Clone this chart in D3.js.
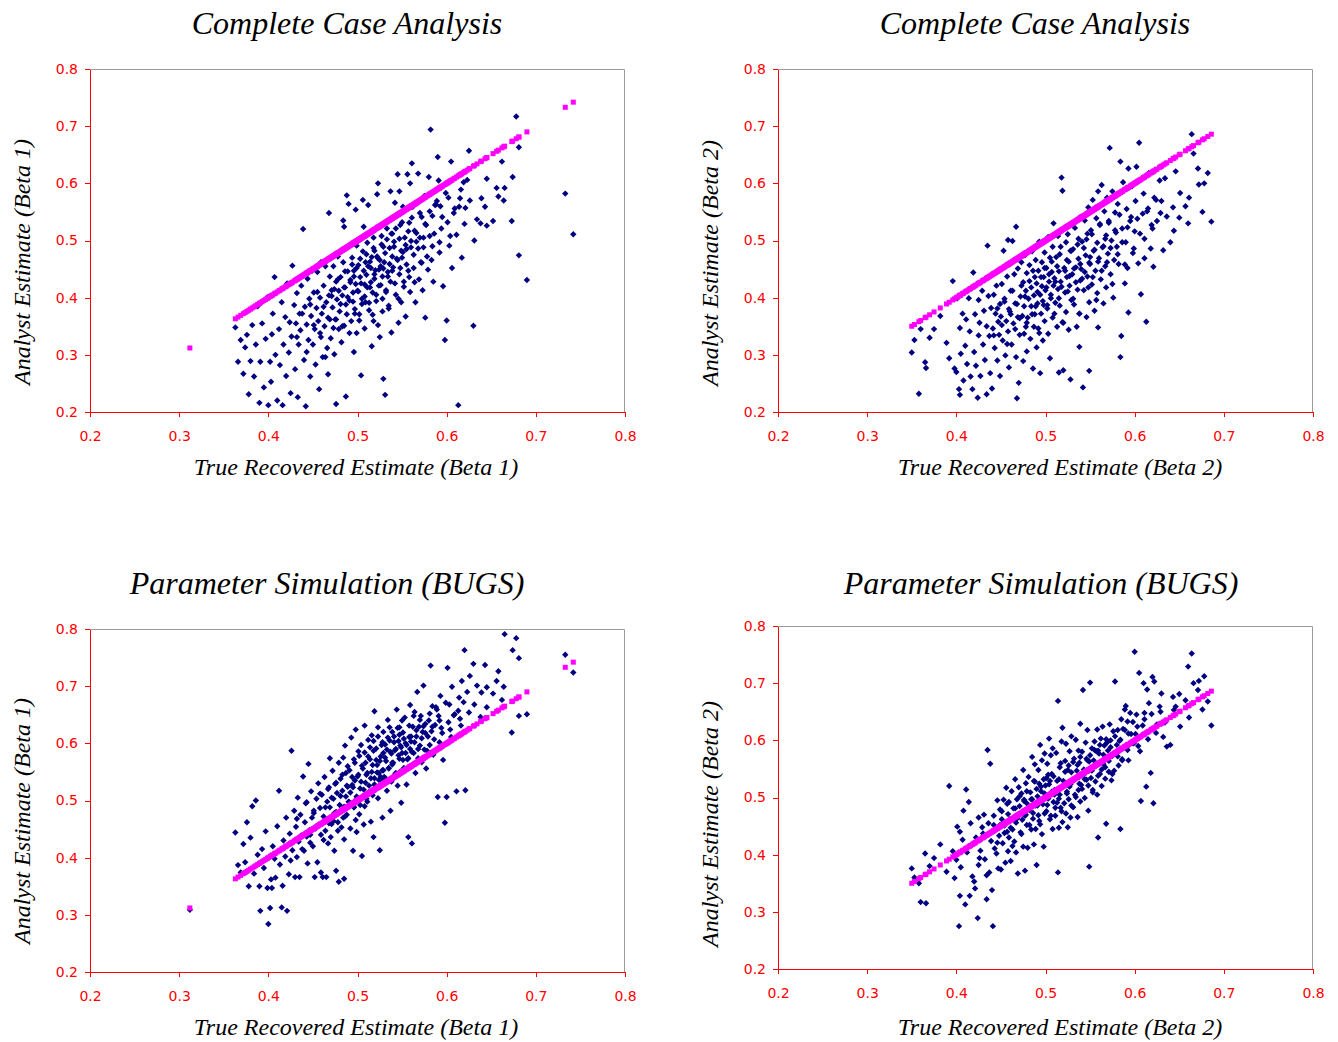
<!DOCTYPE html>
<html>
<head>
<meta charset="utf-8">
<script src="https://cdn.jsdelivr.net/npm/d3@7"></script>
<style>
  body { margin: 0; background: #fff; }
  .axis path, .axis line { stroke: #ff0000; shape-rendering: crispEdges; }
  .axis text { font-family: "DejaVu Sans", sans-serif; font-size: 14px; fill: #ff0000; }
  .title, .axis-label { font-family: "Liberation Serif", serif; font-style: italic; fill: #000; }
  .title { font-size: 32px; }
  .axis-label { font-size: 24px; }
</style>
</head>
<body>
<div id="chart"></div>
<script>
// tick values shared by both axes of every panel
var tickValues = [0.2, 0.3, 0.4, 0.5, 0.6, 0.7, 0.8];

// Beta 1: true recovered estimates (x) and the analyst estimates
var trueBeta1 = [
  .312, .733, .742,
  .363, .366, .369,
  .372, .374, .376, .378,
  .380, .382, .384, .386, .388,
  .390, .391, .393, .395, .397, .399,
  .400, .402, .403, .404, .405, .407, .408,
  .410, .412, .413, .415, .416, .417, .419,
  .420, .421, .423, .424, .425, .426, .427, .429,
  .430, .431, .432, .433, .434, .435, .436, .437, .439,
  .440, .441, .442, .443, .444, .445, .446, .447, .448, .449,
  .450, .451, .452, .453, .454, .455, .456, .457, .458, .459, .459,
  .460, .461, .462, .463, .464, .465, .466, .467, .468, .468, .469, .469,
  .470, .471, .472, .473, .474, .475, .476, .476, .477, .478, .479, .479,
  .480, .481, .482, .483, .484, .484, .485, .485, .486, .487, .487, .488, .489,
  .490, .491, .492, .493, .494, .495, .496, .496, .497, .498, .498, .499, .499,
  .500, .501, .502, .503, .504, .505, .506, .506, .507, .508, .508, .509, .509,
  .510, .511, .512, .513, .514, .515, .516, .516, .517, .518, .518, .519, .519,
  .520, .521, .522, .523, .523, .524, .525, .526, .527, .528, .528, .529, .529,
  .530, .531, .532, .533, .534, .535, .536, .537, .537, .538, .539, .539,
  .540, .541, .542, .543, .544, .545, .546, .547, .547, .548, .549, .549,
  .550, .551, .552, .553, .554, .555, .556, .557, .558, .559, .559,
  .560, .561, .562, .563, .564, .565, .566, .567, .568, .569,
  .570, .571, .572, .573, .574, .575, .576, .577, .579,
  .580, .581, .582, .583, .584, .585, .587, .589,
  .590, .591, .592, .593, .594, .596, .598,
  .600, .601, .602, .603, .605, .606, .608,
  .611, .613, .614, .616, .617, .619,
  .620, .621, .623, .625, .626,
  .630, .631, .634, .638,
  .639, .643, .645, .645,
  .652, .656, .658,
  .662, .664, .665,
  .673, .674,
  .678, .681,
  .681, .690,
  .432, .438, .443, .447, .451, .455, .458, .462, .464, .467, .471, .473,
  .474, .476, .478, .481, .483, .485, .486, .488, .489, .491, .492, .494,
  .495, .496, .497, .499, .501, .502, .503, .504, .505, .507, .508, .510,
  .511, .512, .513, .514, .515, .517, .518, .519, .521, .522, .523, .524,
  .525, .526, .527, .528, .529, .531, .532, .533, .534, .535, .536, .538,
  .539, .541, .542, .543, .545, .546, .547, .548, .550, .551, .552, .554,
  .555, .557, .558, .560, .561, .563, .564, .566, .568, .570, .572, .574,
  .576, .578, .581, .584, .586, .588, .592, .595, .599, .604, .609, .615
];

var ccaBeta1 = [
  .150, .582, .511,
  .348, .288, .326,
  .267, .313, .335, .231,
  .289, .352, .262, .318, .385,
  .216, .288, .355, .243, .328, .401,
  .212, .288, .253, .336, .372, .436, .300,
  .220, .345, .282, .392, .212, .318, .366,
  .263, .425, .304, .357, .233, .332, .456, .387,
  .275, .355, .408, .226, .318, .372, .343, .421, .520,
  .291, .384, .210, .353, .433, .326, .398, .262, .368, .447,
  .318, .409, .345, .283, .382, .445, .359, .240, .400, .331, .462,
  .372, .296, .421, .350, .455, .392, .312, .266, .548, .404, .362, .437,
  .329, .413, .383, .455, .301, .362, .214, .428, .397, .472, .345, .412,
  .376, .436, .322, .404, .535, .462, .524, .351, .418, .227, .388, .579, .446,
  .564, .395, .431, .359, .470, .409, .305, .447, .380, .554, .424, .338, .491,
  .412, .457, .371, .436, .264, .398, .571, .481, .524, .423, .346, .462, .392,
  .440, .496, .562, .378, .418, .452, .315, .471, .409, .505, .359, .433, .482,
  .448, .394, .581, .600, .469, .421, .331, .455, .508, .376, .437, .258, .489,
  .462, .230, .410, .521, .445, .381, .487, .586, .428, .339, .472, .512,
  .453, .498, .566, .405, .468, .616, .356, .586, .441, .527, .482, .392,
  .470, .559, .428, .505, .367, .485, .616, .447, .531, .600, .410,
  .488, .635, .559, .452, .517, .392, .498, .565, .617, .432,
  .505, .462, .541, .413, .488, .578, .365, .527, .449,
  .611, .508, .694, .466, .543, .428, .562, .569,
  .646, .605, .479, .560, .521, .420, .326,
  .360, .532, .575, .491, .638, .452, .548,
  .510, .212, .559, .589, .470, .602,
  .529, .557, .606, .657, .570,
  .351, .500, .537, .530,
  .574, .559, .608, .526,
  .534, .592, .577,
  .638, .570, .592,
  .534, .611,
  .717, .663,
  .474, .431,
  .331, .372, .305, .388, .352, .410, .338, .384, .296, .365, .403, .347,
  .415, .362, .432, .389, .350, .418, .446, .371, .401, .338, .427, .458,
  .393, .437, .372, .452, .411, .360, .468, .425, .389, .447, .402, .476,
  .418, .455, .391, .463, .427, .370, .487, .441, .405, .472, .352, .449,
  .466, .422, .493, .398, .451, .478, .413, .502, .437, .386, .459, .512,
  .447, .489, .425, .521, .466, .398, .503, .452, .532, .480, .419, .492,
  .458, .516, .436, .499, .540, .475, .427, .513, .486, .548, .461, .505,
  .529, .472, .551, .490, .512, .563, .497, .541, .583, .508, .556, .574
];

var bugsBeta1 = [
  .309, .755, .724,
  .444, .387, .374,
  .424, .392, .462, .350,
  .435, .490, .372, .500, .405,
  .350, .307, .415, .382, .446, .347,
  .284, .312, .362, .347, .420, .398, .365,
  .455, .517, .388, .313, .351, .430, .402,
  .470, .307, .371, .442, .395, .587, .413, .482,
  .366, .454, .401, .505, .428, .366, .475, .439, .542,
  .412, .462, .495, .437, .390, .564, .448, .426, .516, .470,
  .420, .478, .366, .451, .503, .392, .530, .458, .487, .374, .440,
  .510, .366, .472, .541, .447, .366, .498, .425, .523, .460, .574, .488,
  .436, .505, .552, .464, .412, .529, .480, .377, .513, .447, .358, .566,
  .492, .538, .453, .517, .575, .470, .432, .363, .596, .507, .548, .475, .524,
  .498, .553, .451, .610, .527, .412, .488, .572, .535, .466, .624, .503, .445,
  .542, .586, .476, .521, .597, .403, .556, .508, .458, .631, .490, .566, .531,
  .545, .498, .606, .526, .572, .463, .550, .614, .509, .587, .436, .539, .656,
  .523, .591, .562, .504, .628, .548, .413, .577, .535, .602, .470, .553, .583,
  .541, .598, .569, .517, .641, .557, .605, .482, .585, .533, .620, .566,
  .566, .612, .546, .590, .659, .526, .604, .573, .628, .551, .593, .496,
  .583, .619, .557, .645, .600, .528, .572, .436, .611, .590, .667,
  .603, .425, .629, .583, .655, .548, .612, .690, .574, .629,
  .596, .648, .567, .620, .701, .589, .634, .556, .612,
  .640, .597, .736, .621, .665, .580, .632, .659,
  .506, .648, .602, .683, .627, .571, .461,
  .506, .732, .637, .668, .611, .699, .649,
  .516, .657, .680, .631, .709, .672,
  .763, .518, .690, .654, .718,
  .739, .668, .701, .646,
  .689, .737, .698, .663,
  .687, .709, .726,
  .676, .699, .791,
  .619, .763,
  .784, .749,
  .648, .651,
  .468, .415, .497, .440, .482, .456, .512, .431, .488, .520, .459, .503,
  .478, .531, .462, .508, .545, .489, .472, .526, .560, .497, .514, .541,
  .523, .488, .566, .507, .545, .578, .492, .533, .561, .519, .584, .503,
  .548, .577, .515, .593, .539, .562, .604, .528, .571, .549, .612, .536,
  .569, .541, .597, .553, .620, .575, .538, .589, .610, .556, .628, .582,
  .563, .602, .588, .548, .627, .579, .615, .596, .640, .571, .608, .583,
  .597, .574, .631, .612, .585, .648, .602, .623, .590, .641, .609, .630,
  .618, .587, .652, .629, .607, .663, .640, .618, .671, .624, .651, .643
];

// Beta 2
var trueBeta2 = [
  .350, .353, .358, .360, .365, .366, .370, .375, .382, .389, .392, .396, .398,
  .400, .401, .403, .404, .404, .405, .407, .408,
  .410, .411, .412, .414, .415, .416, .418, .419,
  .420, .421, .422, .424, .425, .425, .426, .427, .429,
  .430, .431, .432, .434, .434, .435, .436, .437, .438, .439,
  .440, .441, .442, .443, .444, .445, .446, .447, .448, .449, .449,
  .450, .451, .452, .453, .454, .455, .456, .457, .458, .458, .459, .459,
  .460, .461, .462, .463, .464, .465, .466, .467, .467, .468, .469, .469, .470,
  .471, .472, .473, .474, .475, .475, .476, .477, .478, .478, .479, .479, .480,
  .481, .482, .483, .484, .485, .485, .486, .487, .487, .488, .489, .489, .490, .490,
  .491, .492, .492, .493, .494, .494, .495, .496, .496, .497, .498, .498, .499, .499,
  .500, .501, .502, .503, .503, .504, .505, .505, .506, .507, .508, .508, .509, .509,
  .510, .511, .512, .513, .514, .514, .515, .515, .516, .517, .517, .518, .519, .519,
  .520, .521, .522, .523, .523, .524, .525, .526, .526, .527, .528, .528, .529, .529,
  .530, .531, .532, .533, .534, .535, .536, .537, .537, .538, .539, .539, .538,
  .540, .541, .542, .543, .544, .545, .546, .547, .547, .548, .549, .549, .549,
  .550, .551, .552, .553, .554, .555, .556, .557, .558, .558, .559, .559,
  .560, .561, .562, .563, .564, .565, .566, .567, .568, .568, .569,
  .570, .571, .572, .573, .574, .575, .576, .577, .578, .579,
  .580, .581, .582, .584, .584, .585, .586, .587, .589,
  .590, .591, .592, .593, .593, .595, .597, .598,
  .600, .601, .602, .604, .605, .607, .609,
  .610, .611, .613, .614, .616, .618,
  .620, .621, .622, .625, .628,
  .630, .632, .634, .636,
  .640, .643, .644, .646,
  .650, .651, .657,
  .660, .661, .664, .666,
  .671, .672, .676, .678, .682, .686,
  .442, .446, .451, .454, .457, .461, .463, .466, .468, .471, .473, .476,
  .477, .479, .482, .484, .486, .488, .491, .493, .495, .497, .499, .501,
  .502, .504, .506, .507, .510, .511, .513, .515, .516, .518, .520, .522,
  .524, .525, .527, .529, .531, .532, .534, .536, .538, .539, .541, .543,
  .544, .546, .548, .550, .552, .553, .555, .557, .559, .561, .563, .565,
  .567, .569, .571, .573, .575, .578, .581, .583, .586, .589, .592, .596,
  .599, .603, .606, .611, .615, .619, .624, .629
];

var ccaBeta2 = [
  .304, .326, .232, .345, .287, .277, .330, .345, .368, .321, .294, .429, .276,
  .270, .399, .240, .230, .347, .302, .372, .255,
  .316, .362, .284, .399, .341, .262, .240, .444,
  .305, .371, .281, .225, .396, .334, .356, .263, .412,
  .318, .377, .291, .231, .350, .491, .403, .333, .268, .382,
  .241, .346, .405, .312, .372, .421, .290, .358, .335, .389, .263,
  .367, .424, .325, .482, .393, .299, .359, .437, .501, .341, .380, .278,
  .376, .412, .318, .499, .355, .441, .390, .524, .296, .224, .366, .451, .251,
  .335, .402, .462, .368, .289, .427, .385, .474, .349, .412, .306, .443, .365,
  .398, .457, .328, .418, .371, .481, .276, .404, .349, .436, .385, .466, .313, .425,
  .390, .447, .346, .498, .405, .268, .372, .462, .420, .325, .436, .387, .479, .359,
  .413, .452, .381, .506, .337, .428, .470, .294, .399, .445, .365, .489, .421, .530,
  .434, .391, .471, .349, .415, .508, .269, .446, .386, .489, .428, .610, .587, .357,
  .273, .452, .409, .497, .375, .436, .511, .344, .463, .421, .257, .482, .396, .529,
  .441, .485, .388, .522, .453, .349, .414, .503, .468, .372, .541, .430, .314,
  .450, .498, .243, .413, .535, .474, .366, .512, .437, .558, .272, .461, .392,
  .459, .518, .423, .571, .482, .377, .447, .539, .408, .496, .586, .348,
  .469, .529, .432, .597, .488, .390, .551, .455, .509, .418, .575,
  .477, .534, .662, .441, .500, .586, .400, .466, .549, .514,
  .489, .564, .459, .638, .296, .333, .521, .602, .425,
  .497, .555, .452, .626, .374, .534, .595, .478,
  .516, .569, .629, .460, .671, .406, .547,
  .582, .503, .358, .551, .618, .486,
  .521, .454, .575, .534, .605,
  .569, .483, .609, .542,
  .497, .558, .517, .621,
  .540, .583, .560,
  .530, .575, .686, .652,
  .626, .598, .550, .600, .618, .533,
  .334, .381, .352, .398, .319, .371, .412, .345, .389, .364, .421, .337,
  .402, .356, .429, .385, .447, .371, .410, .338, .436, .394, .452, .418,
  .387, .441, .405, .463, .372, .428, .455, .399, .476, .419, .356, .447,
  .466, .411, .438, .482, .398, .451, .427, .493, .372, .459, .433, .487,
  .445, .502, .418, .471, .511, .436, .484, .396, .463, .527, .447, .490,
  .503, .462, .531, .487, .424, .518, .476, .545, .497, .458, .523, .541,
  .486, .538, .512, .469, .556, .527, .571, .548
];

var bugsBeta2 = [
  .376, .360, .350, .317, .402, .315, .380, .394, .418, .370, .520, .406, .359,
  .391, .449, .275, .328, .440, .378, .426, .477,
  .313, .514, .404, .492, .328, .455, .362, .419,
  .353, .341, .430, .289, .382, .465, .394, .407, .448,
  .437, .470, .392, .364, .322, .583, .455, .369, .559, .424,
  .338, .275, .468, .411, .446, .402, .495, .376, .433, .479, .452,
  .374, .462, .420, .496, .451, .386, .517, .440, .471, .406, .492, .430,
  .462, .389, .511, .444, .481, .423, .532, .456, .404, .497, .470, .367, .518,
  .485, .439, .507, .461, .548, .414, .496, .372, .470, .525, .452, .490, .412,
  .536, .478, .509, .444, .571, .497, .463, .529, .418, .558, .486, .445, .515, .382,
  .502, .548, .469, .524, .592, .453, .511, .436, .565, .488, .532, .414, .577, .507,
  .521, .476, .559, .498, .540, .603, .462, .529, .574, .510, .445, .586, .537, .492,
  .513, .468, .578, .491, .669, .369, .532, .447, .505, .560, .482, .598, .622, .457,
  .529, .490, .564, .472, .594, .510, .448, .556, .497, .581, .523, .465, .607, .544,
  .530, .483, .568, .505, .601, .547, .466, .582, .513, .536, .629, .493, .561,
  .522, .580, .688, .540, .499, .596, .531, .565, .618, .477, .379, .563, .547,
  .701, .534, .586, .513, .565, .598, .528, .581, .505, .619, .430, .582,
  .577, .541, .603, .520, .624, .558, .591, .533, .454, .602, .569,
  .582, .545, .628, .600, .530, .573, .616, .547, .703, .576,
  .592, .618, .556, .445, .601, .637, .567, .620, .654,
  .660, .587, .633, .565, .612, .648, .595, .632,
  .755, .611, .645, .590, .718, .494, .626,
  .700, .648, .519, .689, .665, .543,
  .711, .490, .703, .628, .659,
  .682, .606, .631, .589,
  .592, .676, .653, .659,
  .681, .624, .670,
  .729, .640, .752, .700,
  .688, .704, .654, .712, .668, .626,
  .452, .421, .476, .438, .489, .447, .415, .481, .463, .502, .436, .494,
  .468, .511, .452, .497, .473, .528, .486, .459, .519, .495, .472, .534,
  .487, .523, .468, .541, .505, .482, .529, .498, .553, .476, .521, .545,
  .507, .548, .519, .486, .562, .530, .501, .557, .524, .571, .515, .549,
  .532, .568, .521, .574, .547, .509, .583, .556, .538, .592, .549, .575,
  .553, .596, .564, .588, .541, .607, .572, .599, .565, .618, .583, .611,
  .595, .624, .581, .637, .602, .646, .613, .650
];

var svgWidth = 1338;
var svgHeight = 1042;
var plotWidth = 535;
var plotHeight = 343;

var panels = [
  { left: 90, top: 69, title: "Complete Case Analysis", titleX: 347, titleY: 34,
    truth: trueBeta1, est: ccaBeta1, xLabel: "True Recovered Estimate (Beta 1)", xLabelX: 356, xLabelY: 475,
    yLabel: "Analyst Estimate (Beta 1)", yLabelX: 30, yLabelY: 262 },
  { left: 778, top: 69, title: "Complete Case Analysis", titleX: 1035, titleY: 34,
    truth: trueBeta2, est: ccaBeta2, xLabel: "True Recovered Estimate (Beta 2)", xLabelX: 1060, xLabelY: 475,
    yLabel: "Analyst Estimate (Beta 2)", yLabelX: 718, yLabelY: 263 },
  { left: 90, top: 629, title: "Parameter Simulation (BUGS)", titleX: 327, titleY: 594,
    truth: trueBeta1, est: bugsBeta1, xLabel: "True Recovered Estimate (Beta 1)", xLabelX: 356, xLabelY: 1035,
    yLabel: "Analyst Estimate (Beta 1)", yLabelX: 30, yLabelY: 821 },
  { left: 778, top: 626, title: "Parameter Simulation (BUGS)", titleX: 1041, titleY: 594,
    truth: trueBeta2, est: bugsBeta2, xLabel: "True Recovered Estimate (Beta 2)", xLabelX: 1060, xLabelY: 1035,
    yLabel: "Analyst Estimate (Beta 2)", yLabelX: 718, yLabelY: 824 }
];

var svg = d3.select("#chart")
  .append("svg")
  .attr("width", svgWidth)
  .attr("height", svgHeight);

function drawPanel(p) {
  var xScale = d3.scaleLinear().domain([0.2, 0.8]).range([0, plotWidth]);
  var yScale = d3.scaleLinear().domain([0.2, 0.8]).range([plotHeight, 0]);

  var chartGroup = svg.append("g")
    .attr("transform", `translate(${p.left}, ${p.top})`);

  // grey frame on top and right
  chartGroup.append("path")
    .attr("d", `M0,0.5H${plotWidth - 0.5}V${plotHeight}`)
    .attr("fill", "none")
    .attr("stroke", "#9a9a9a");

  chartGroup.append("g")
    .attr("class", "axis")
    .attr("transform", `translate(0, ${plotHeight})`)
    .call(d3.axisBottom(xScale).tickValues(tickValues).tickSize(5).tickSizeOuter(0)
      .tickPadding(14).tickFormat(d3.format(".1f")));

  chartGroup.append("g")
    .attr("class", "axis")
    .call(d3.axisLeft(yScale).tickValues(tickValues).tickSize(5).tickSizeOuter(0)
      .tickPadding(7).tickFormat(d3.format(".1f")));

  var n = Math.min(p.truth.length, p.est.length);
  var points = d3.range(n)
    .map(i => [p.truth[i], p.est[i]])
    .filter(d => d[1] >= 0.2 && d[1] <= 0.8);

  // analyst estimates: navy diamonds
  chartGroup.append("g").selectAll("path")
    .data(points)
    .enter()
    .append("path")
    .attr("d", "M0,-3.2L3.2,0L0,3.2L-3.2,0Z")
    .attr("transform", d => `translate(${xScale(d[0])}, ${yScale(d[1])})`)
    .attr("fill", "#000080");

  // true values on the diagonal: magenta squares
  chartGroup.append("g").selectAll("rect")
    .data(p.truth)
    .enter()
    .append("rect")
    .attr("x", d => xScale(d) - 2.5)
    .attr("y", d => yScale(d) - 2.5)
    .attr("width", 5)
    .attr("height", 5)
    .attr("fill", "#ff00ff");

  svg.append("text")
    .attr("class", "title")
    .attr("x", p.titleX)
    .attr("y", p.titleY)
    .attr("text-anchor", "middle")
    .text(p.title);

  svg.append("text")
    .attr("class", "axis-label")
    .attr("x", p.xLabelX)
    .attr("y", p.xLabelY)
    .attr("text-anchor", "middle")
    .text(p.xLabel);

  svg.append("text")
    .attr("class", "axis-label")
    .attr("transform", `translate(${p.yLabelX}, ${p.yLabelY}) rotate(-90)`)
    .attr("text-anchor", "middle")
    .text(p.yLabel);
}

panels.forEach(drawPanel);
</script>
</body>
</html>
